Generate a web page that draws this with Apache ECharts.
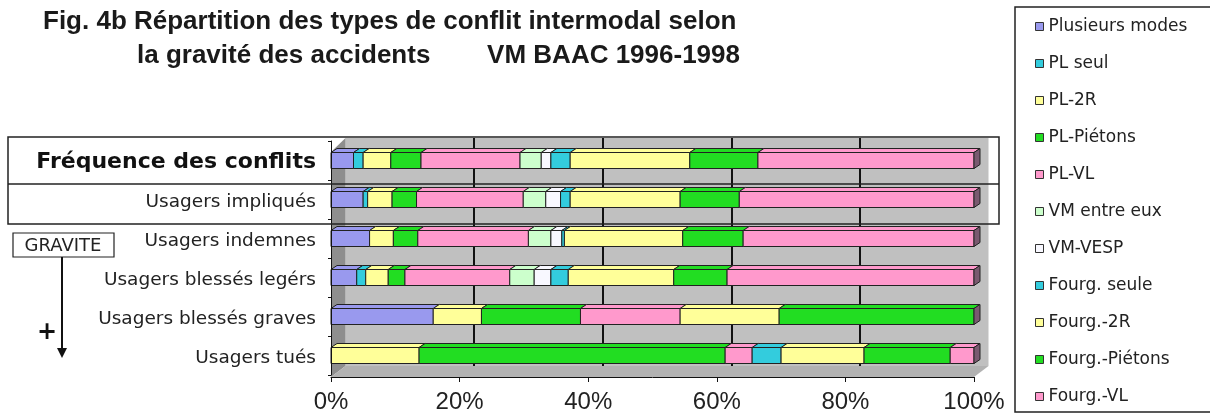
<!DOCTYPE html>
<html>
<head>
<meta charset="utf-8">
<script src="https://cdn.jsdelivr.net/npm/echarts@6/dist/echarts.min.js"></script>
<style>
html, body { margin: 0; padding: 0; background: #fff; }
#chart { width: 1210px; height: 416px; }
</style>
</head>
<body>
<div id="chart"></div>
<script>
// categories (top to bottom)
var categories = ['Fréquence des conflits', 'Usagers impliqués', 'Usagers indemnes',
    'Usagers blessés legérs', 'Usagers blessés graves', 'Usagers tués'];

var seriesNames = ['Plusieurs modes', 'PL seul', 'PL-2R', 'PL-Piétons', 'PL-VL', 'VM entre eux',
    'VM-VESP', 'Fourg. seule', 'Fourg.-2R', 'Fourg.-Piétons', 'Fourg.-VL'];

// parts en % pour chaque ligne
var plusieursModes = [3.5, 5.0, 6.0, 4.0, 15.9, 0];
var plSeul         = [1.5, 0.7, 0, 1.4, 0, 0];
var pl2R           = [4.3, 3.8, 3.7, 3.5, 7.5, 13.7];
var plPietons      = [4.7, 3.8, 3.8, 2.6, 15.4, 47.6];
var plVL           = [15.4, 16.6, 17.2, 16.3, 15.5, 4.2];
var vmEntreEux     = [3.3, 3.5, 3.5, 3.8, 0, 0];
var vmVesp         = [1.5, 2.3, 1.7, 2.6, 0, 0];
var fourgSeule     = [3.0, 1.5, 0.4, 2.7, 0, 4.5];
var fourg2R        = [18.6, 17.1, 18.4, 16.4, 15.4, 12.9];
var fourgPietons   = [10.6, 9.2, 9.4, 8.3, 30.3, 13.4];
var fourgVL        = [33.6, 36.5, 35.9, 38.4, 0, 3.7];

var xTicks = [0, 20, 40, 60, 80, 100];

var seriesValues = [plusieursModes, plSeul, pl2R, plPietons, plVL, vmEntreEux,
    vmVesp, fourgSeule, fourg2R, fourgPietons, fourgVL];
var colors = ['#9999ee', '#33ccdd', '#ffff99', '#22dd22', '#ff99cc', '#ccffcc',
    '#f8f8ff', '#33ccdd', '#ffff99', '#22dd22', '#ff99cc'];

// mise en page (pixels)
var plotLeft = 331, plotRight = 974, plotTop = 141, plotBottom = 375;
var depthX = 14.5;

// empilement 100%
var totals = categories.map(function (c, i) {
    var t = 0;
    seriesValues.forEach(function (v) { t += v[i]; });
    return t;
});
var running = categories.map(function () { return 0; });

var series = seriesValues.map(function (vals, s) {
    var data = categories.map(function (c, i) {
        var s0 = running[i] / totals[i] * 100;
        running[i] += vals[i];
        var s1 = running[i] / totals[i] * 100;
        return [s0, s1, i];
    });
    return {
        name: seriesNames[s],
        type: 'custom',
        xAxisIndex: 0,
        yAxisIndex: 0,
        itemStyle: { color: colors[s], borderColor: '#222', borderWidth: 1 },
        encode: { x: [0, 1], y: 2 },
        renderItem: renderSeg,
        data: data,
        z: 5
    };
});

function renderSeg(params, api) {
    var s0 = api.value(0), s1 = api.value(1), cat = api.value(2);
    if (s1 - s0 <= 0.001) return;
    var a = api.coord([s0, cat]);
    var b = api.coord([s1, cat]);
    var h = 16, dx = 6, dy = 4;
    var x = a[0], y = a[1] - h / 2, w = b[0] - a[0];
    var color = api.visual('color');
    var children = [
        {
            type: 'polygon',
            shape: { points: [[x, y], [x + dx, y - dy], [x + w + dx, y - dy], [x + w, y]] },
            style: { fill: color, stroke: '#222', lineWidth: 1 }
        },
        {
            type: 'rect',
            shape: { x: x, y: y, width: w, height: h },
            style: { fill: color, stroke: '#222', lineWidth: 1 }
        }
    ];
    if (s1 >= 99.95) {
        children.push({
            type: 'polygon',
            shape: { points: [[x + w, y], [x + w + dx, y - dy], [x + w + dx, y + h - dy], [x + w, y + h]] },
            style: { fill: '#7a5a70', stroke: '#222', lineWidth: 1 }
        });
    }
    return { type: 'group', children: children };
}

var txt = '#1a1a1a';
var titleFont = { fontFamily: 'Liberation Sans', fontWeight: 'bold', fontSize: 26, color: txt };
var chart = echarts.init(document.getElementById('chart'));
var option = {
    animation: false,
    backgroundColor: '#fff',
    title: [
        { text: 'Fig. 4b Répartition des types de conflit intermodal selon', left: 43, top: 9, padding: 0, textStyle: titleFont },
        { text: 'la gravité des accidents', left: 137, top: 43, padding: 0, textStyle: titleFont },
        { text: 'VM BAAC 1996-1998', right: 1210 - 740, top: 43, padding: 0, textStyle: titleFont }
    ],
    legend: {
        orient: 'vertical',
        left: 1030,
        top: 13,
        itemWidth: 8,
        itemHeight: 8,
        itemGap: 20,
        icon: 'rect',
        data: seriesNames,
        itemStyle: { borderColor: '#333', borderWidth: 1 },
        textStyle: { fontFamily: 'DejaVu Sans', fontSize: 17, lineHeight: 17, color: '#222' }
    },
    grid: [
        {
            left: plotLeft, right: 1210 - plotRight, top: plotTop, bottom: 416 - plotBottom,
            outerBoundsMode: 'none'
        },
        {
            left: plotLeft + depthX, right: 1210 - plotRight - depthX, top: 138, bottom: 416 - 366,
            show: true, backgroundColor: '#c0c0c0', borderWidth: 0, outerBoundsMode: 'none'
        }
    ],
    xAxis: [
        {
            type: 'value', gridIndex: 0, min: 0, max: 100, interval: 20, z: 6,
            offset: 2,
            axisLine: { show: true, lineStyle: { color: '#111', width: 1 } },
            axisTick: { show: true, length: 5, lineStyle: { color: '#111' } },
            splitLine: { show: false },
            axisLabel: {
                margin: 13,
                formatter: '{value}%',
                fontFamily: 'Liberation Sans', fontSize: 24, color: '#222'
            }
        },
        {
            type: 'value', gridIndex: 1, min: 0, max: 100, interval: 20,
            axisLine: { show: false }, axisTick: { show: false }, axisLabel: { show: false },
            splitLine: { show: true, showMinLine: false, showMaxLine: false, lineStyle: { color: '#111', width: 2 } }
        }
    ],
    yAxis: [
        {
            type: 'category', gridIndex: 0, inverse: true, data: categories, z: 6,
            axisLine: { show: true, lineStyle: { color: '#111' } },
            axisTick: { show: true, length: 3, lineStyle: { color: '#111' } },
            axisLabel: {
                margin: 15,
                formatter: function (v, i) {
                    return i === 0 ? '{b|' + v + '}' : '{n|' + v + '}';
                },
                rich: {
                    b: { fontFamily: 'DejaVu Sans', fontWeight: 'bold', fontSize: 22, color: '#111', padding: [4, 0, 0, 0] },
                    n: { fontFamily: 'DejaVu Sans', fontSize: 18.5, color: '#222', padding: [6, 0, 0, 0] }
                }
            }
        },
        { type: 'value', gridIndex: 1, show: false }
    ],
    graphic: [
        // paroi gauche
        {
            type: 'polygon', z: 1, silent: true,
            shape: { points: [[plotLeft, plotTop + 11], [plotLeft + depthX, 138], [plotLeft + depthX, 366], [plotLeft, plotBottom + 2]] },
            style: { fill: '#8e8e8e' }
        },
        // sol
        {
            type: 'polygon', z: 1, silent: true,
            shape: { points: [[plotLeft, plotBottom + 2], [plotLeft + depthX, 366], [plotRight + depthX, 366], [plotRight, plotBottom + 2]] },
            style: { fill: '#b2b2b2' }
        },
        // cadre "Fréquence des conflits"
        {
            type: 'rect', z: 10, silent: true,
            shape: { x: 8, y: 137, width: 991, height: 87 },
            style: { fill: 'none', stroke: '#222', lineWidth: 1.5 }
        },
        {
            type: 'line', z: 10, silent: true,
            shape: { x1: 8, y1: 184, x2: 999, y2: 184 },
            style: { stroke: '#222', lineWidth: 1.5 }
        },
        // GRAVITE
        {
            type: 'rect', z: 10, silent: true,
            shape: { x: 13, y: 233, width: 101, height: 24 },
            style: { fill: '#fff', stroke: '#222', lineWidth: 1.2 }
        },
        {
            type: 'text', z: 11, silent: true, x: 63, y: 246,
            style: { text: 'GRAVITE', fontFamily: 'DejaVu Sans', fontSize: 18, fill: '#222', align: 'center', verticalAlign: 'middle' }
        },
        {
            type: 'line', z: 10, silent: true,
            shape: { x1: 62, y1: 257, x2: 62, y2: 350 },
            style: { stroke: '#111', lineWidth: 2 }
        },
        {
            type: 'polygon', z: 10, silent: true,
            shape: { points: [[57, 348], [67, 348], [62, 358]] },
            style: { fill: '#111' }
        },
        {
            type: 'text', z: 11, silent: true, x: 47, y: 333,
            style: { text: '+', fontFamily: 'DejaVu Sans', fontWeight: 'bold', fontSize: 24, fill: '#111', align: 'center', verticalAlign: 'middle' }
        },
        // cadre de la légende
        {
            type: 'rect', z: 10, silent: true,
            shape: { x: 1015, y: 7, width: 220, height: 405 },
            style: { fill: 'none', stroke: '#222', lineWidth: 1.5 }
        }
    ],
    series: series
};
chart.setOption(option);
</script>
</body>
</html>
